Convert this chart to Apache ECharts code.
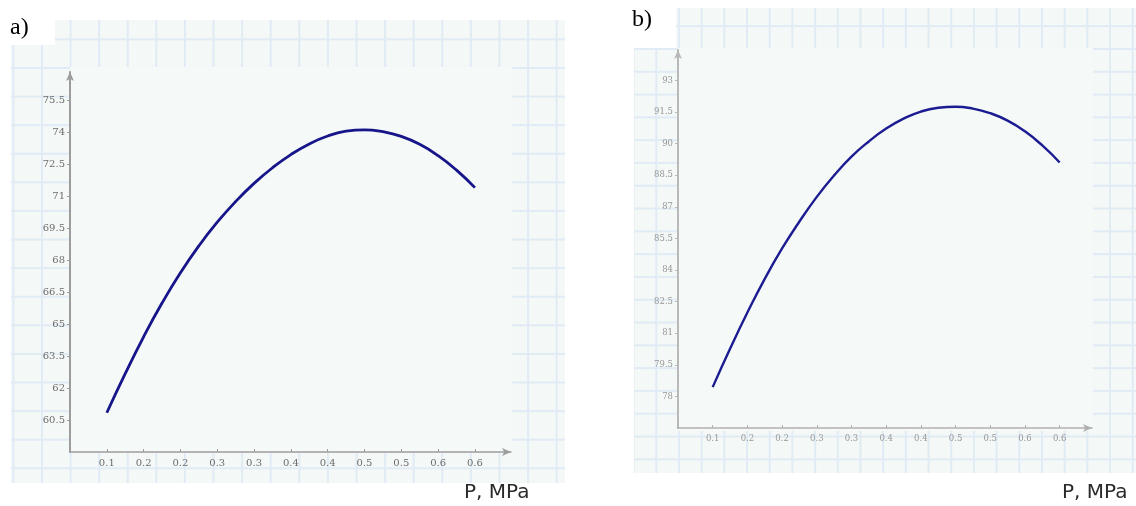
<!DOCTYPE html>
<html lang="en">
<head>
    <meta charset="UTF-8">
    <title>P, MPa</title>
    <script src="https://cdn.jsdelivr.net/npm/echarts@6/dist/echarts.min.js"></script>
</head>
<style>
    html, body {
        margin: 0;
        padding: 0;
        background: #ffffff;
    }
    .sheet {
        position: absolute;
        background-color: #f4f8f6;
    }
    .sheetA {
        left: 11px; top: 20px; width: 554px; height: 463px;
        background-image: linear-gradient(to right, #e0ebf5 0, #e0ebf5 1.5px, transparent 1.5px),
                          linear-gradient(to bottom, #e0ebf5 0, #e0ebf5 1.5px, transparent 1.5px);
        background-size: 28.6px 28.6px;
        background-position: 1.4px 18.4px;
    }
    .sheetB {
        left: 634px; top: 8px; width: 502px; height: 465px;
        background-image: linear-gradient(to right, #e0ebf5 0, #e0ebf5 1.5px, transparent 1.5px),
                          linear-gradient(to bottom, #e0ebf5 0, #e0ebf5 1.5px, transparent 1.5px);
        background-size: 22.7px 22.8px;
        background-position: 21.3px 17.2px;
    }
    .plot {
        position: absolute;
        background: #f5f9f7;
    }
    .blank {
        position: absolute;
        background: #ffffff;
    }
    #map {
        position: absolute;
        left: 0; top: 0;
        width: 1136px;
        height: 506px;
    }
</style>
<body>
<div class="sheet sheetA"></div>
<div class="sheet sheetB"></div>
<div class="plot" style="left:70px;top:67px;width:442px;height:386px"></div>
<div class="plot" style="left:678px;top:48px;width:415px;height:383px"></div>
<div class="blank" style="left:0;top:0;width:55px;height:45px"></div>
<div class="blank" style="left:620px;top:0;width:56px;height:48px"></div>
<div id="map"></div>
<script>
    // pressure, MPa
    var pressure = [0.1, 0.125, 0.15, 0.175, 0.2, 0.225, 0.25, 0.275, 0.3, 0.325, 0.35,
        0.375, 0.4, 0.425, 0.45, 0.475, 0.5, 0.525, 0.55, 0.575, 0.6];
    // panel a)
    var valuesA = [60.84, 62.67, 64.40, 65.98, 67.40, 68.66, 69.77, 70.74, 71.59, 72.32, 72.94,
        73.44, 73.81, 74.04, 74.10, 74.01, 73.79, 73.42, 72.89, 72.21, 71.39];
    // panel b)
    var valuesB = [78.44, 80.26, 81.98, 83.58, 85.02, 86.30, 87.47, 88.49, 89.38, 90.10, 90.71,
        91.18, 91.52, 91.70, 91.75, 91.66, 91.44, 91.09, 90.58, 89.91, 89.10];

    var xTicks = [0.1, 0.15, 0.2, 0.25, 0.3, 0.35, 0.4, 0.45, 0.5, 0.55, 0.6];
    var xTickLabels = ['0.1', '0.2', '0.2', '0.3', '0.3', '0.4', '0.4', '0.5', '0.5', '0.6', '0.6'];
    var yTicksA = [60.5, 62, 63.5, 65, 66.5, 68, 69.5, 71, 72.5, 74, 75.5];
    var yTicksB = [78, 79.5, 81, 82.5, 84, 85.5, 87, 88.5, 90, 91.5, 93];

    function xLabel(v) {
        var i = Math.round((v - 0.1) / 0.05);
        return xTickLabels[i];
    }

    function pairs(xs, ys) {
        var out = [];
        for (var i = 0; i < xs.length; i++) out.push([xs[i], ys[i]]);
        return out;
    }

    function xAxisOf(idx, max, axisColor, labelColor, fontSize) {
        return {
            type: 'value', gridIndex: idx, min: 0.05, max: max,
            axisLine: {
                show: true, onZero: false,
                symbol: ['none', 'arrow'], symbolSize: [6, 9],
                lineStyle: {color: axisColor, width: 1.5}
            },
            axisTick: {show: true, inside: true, length: 3, customValues: xTicks,
                lineStyle: {color: axisColor}},
            axisLabel: {
                customValues: xTicks, formatter: xLabel, margin: 6,
                color: labelColor, fontFamily: 'DejaVu Serif', fontSize: fontSize
            },
            splitLine: {show: false}
        };
    }

    function yAxisOf(idx, min, max, ticks, axisColor, labelColor, fontSize) {
        return {
            type: 'value', gridIndex: idx, min: min, max: max,
            axisLine: {
                show: true, onZero: false,
                symbol: ['none', 'arrow'], symbolSize: [6, 9],
                lineStyle: {color: axisColor, width: 2}
            },
            axisTick: {show: true, length: 3, customValues: ticks,
                lineStyle: {color: axisColor}},
            axisLabel: {
                customValues: ticks, margin: 5,
                color: labelColor, fontFamily: 'DejaVu Serif', fontSize: fontSize
            },
            splitLine: {show: false}
        };
    }

    var map = echarts.init(document.getElementById('map'), null, {renderer: 'canvas'});

    var option = {
        backgroundColor: 'transparent',
        animation: false,
        grid: [
            {left: 70, top: 72, width: 441, height: 380},
            {left: 678, top: 50, width: 414, height: 378}
        ],
        xAxis: [
            xAxisOf(0, 0.649, '#9c9c9c', '#6c6c6c', 10),
            xAxisOf(1, 0.6466, '#b0b0b0', '#979797', 8.5)
        ],
        yAxis: [
            yAxisOf(0, 59, 76.81, yTicksA, '#9c9c9c', '#6c6c6c', 10),
            yAxisOf(1, 76.5, 94.44, yTicksB, '#b8b8b8', '#979797', 8.5)
        ],
        series: [
            {
                type: 'line', xAxisIndex: 0, yAxisIndex: 0,
                data: pairs(pressure, valuesA),
                smooth: true, showSymbol: false,
                lineStyle: {color: '#16168a', width: 2.8}
            },
            {
                type: 'line', xAxisIndex: 1, yAxisIndex: 1,
                data: pairs(pressure, valuesB),
                smooth: true, showSymbol: false,
                lineStyle: {color: '#1c1c92', width: 2.4}
            }
        ],
        graphic: [
            {type: 'text', left: 10, top: 16,
                style: {text: 'a)', fill: '#000', font: '24px "Liberation Serif"'}},
            {type: 'text', left: 632, top: 8,
                style: {text: 'b)', fill: '#000', font: '24px "Liberation Serif"'}},
            {type: 'text', left: 464, top: 483,
                style: {text: 'P, MPa', fill: '#2a2a2a', font: '20px "DejaVu Sans"'}},
            {type: 'text', left: 1062, top: 483,
                style: {text: 'P, MPa', fill: '#2a2a2a', font: '20px "DejaVu Sans"'}}
        ]
    };

    map.setOption(option);
</script>
</body>
</html>
